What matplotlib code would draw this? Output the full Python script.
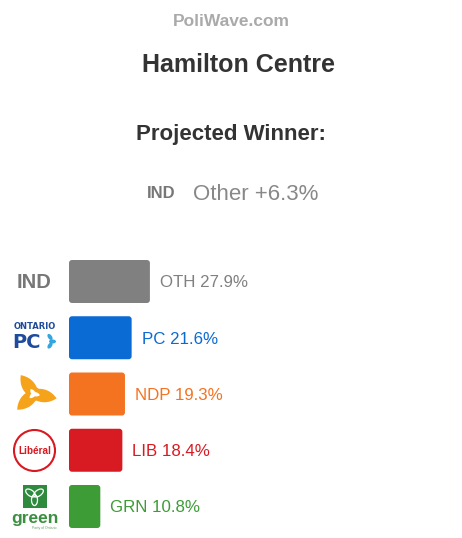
"""Projected vote share card for Hamilton Centre (PoliWave style)."""

import matplotlib

matplotlib.use("Agg")

import matplotlib.pyplot as plt
import numpy as np
from matplotlib.patches import Circle, Ellipse, FancyBboxPatch, Polygon, Rectangle

plt.rcParams["font.family"] = ["Liberation Sans", "DejaVu Sans"]

# data
riding = "Hamilton Centre"
winner_code = "IND"
winner_name = "Other"
winner_margin = 6.3
parties = ["OTH", "PC", "NDP", "LIB", "GRN"]
shares = [27.9, 21.6, 19.3, 18.4, 10.8]
bar_colors = ["#808080", "#0a6bd4", "#f47321", "#d81b22", "#3e9c37"]

W, H = 462, 538
fig = plt.figure(figsize=(W / 100, H / 100), dpi=100)
fig.patch.set_facecolor("white")

# pixel overlay for header and logos
bg = fig.add_axes([0, 0, 1, 1])
bg.set_xlim(0, W)
bg.set_ylim(H, 0)
bg.axis("off")

bg.text(231, 26, "PoliWave.com", ha="center", va="baseline", fontsize=12.5,
        fontweight="bold", color="#aaaaaa")
bg.text(238, 71.5, riding, ha="center", va="baseline", fontsize=18,
        fontweight="bold", color="#333333")
bg.text(231, 140, "Projected Winner:", ha="center", va="baseline", fontsize=16,
        fontweight="bold", color="#333333")
bg.text(146.5, 198.5, winner_code, ha="left", va="baseline", fontsize=12,
        fontweight="bold", color="#777777")
bg.text(193, 200, f"{winner_name} +{winner_margin}%", ha="left", va="baseline",
        fontsize=16, color="#888888")

# bar axes: 0-100 % over 290 px starting at x=69
slot = 56.25
top = 281.5 - slot / 2
ax = fig.add_axes([69 / W, (H - (top + slot * len(parties))) / H, 290 / W, slot * len(parties) / H])
ax.set_xlim(0, 100)
ax.set_ylim(len(parties) - 0.5, -0.5)
ax.axis("off")
ax.patch.set_alpha(0)

bar_h = 43 / slot
x_per_px = 100 / 290
y_per_px = 1 / slot
for i, (p, v, c) in enumerate(zip(parties, shares, bar_colors)):
    ax.add_patch(FancyBboxPatch((0, i - bar_h / 2), v, bar_h,
                                boxstyle=f"round,pad=0,rounding_size={3 * x_per_px}",
                                mutation_aspect=y_per_px / x_per_px,
                                facecolor=c, edgecolor="none"))
    ax.annotate(f"{p} {v}%", xy=(v, i), xytext=(7.2, -4.3), textcoords="offset points",
                ha="left", va="baseline", fontsize=12.2, color=c)

# logos
bg.text(17, 287.7, "IND", ha="left", va="baseline", fontsize=14.5,
        fontweight="bold", color="#777777")

# Ontario PC
bg.text(34.5, 329, "ONTARIO", ha="center", va="baseline", fontsize=6,
        fontweight="bold", color="#1f4b9c", family=["DejaVu Sans"])
bg.text(12, 348, "PC", ha="left", va="baseline", fontsize=14,
        fontweight="bold", color="#1f4b9c", family=["DejaVu Sans"])
for dx, dy, ang in [(3, -4, 55), (5.5, 0.5, 0), (3, 4.5, -55)]:
    bg.add_patch(Ellipse((47 + dx, 341 + dy), 7, 4, angle=ang,
                         facecolor="#33a6df", edgecolor="none"))

# NDP star
theta = np.radians(np.linspace(0, 360, 721))
tips = np.radians([125, 223, 349])
d = np.min(np.abs(np.angle(np.exp(1j * (theta[:, None] - tips[None, :])))), axis=1)
f = np.clip(1 - d / np.radians(62), 0, 1) ** 1.6
r = 7 + 16 * f
cx, cy = 34, 394
bg.add_patch(Polygon(np.column_stack([cx + r * np.cos(theta), cy - r * np.sin(theta)]),
                     closed=True, facecolor="#f6a31c", edgecolor="none"))
r2 = 2.5 + 3.5 * f
bg.add_patch(Polygon(np.column_stack([cx + r2 * np.cos(theta), cy - r2 * np.sin(theta)]),
                     closed=True, facecolor="white", edgecolor="none"))

# Liberal
bg.add_patch(Circle((34.5, 450.5), 20.5, facecolor="white", edgecolor="#d71920", lw=1.5))
bg.text(34.5, 454.5, "Libéral", ha="center", va="baseline", fontsize=7.2,
        fontweight="bold", color="#d71920")

# Green
bg.add_patch(Rectangle((22.5, 484.5), 24, 23, facecolor="#2e8b3d", edgecolor="none"))
for ang, dx, dy in [(35, -4, -3), (-35, 4, -3), (90, 0, 4)]:
    bg.add_patch(Ellipse((34.5 + dx, 496 + dy), 11, 6, angle=ang,
                         facecolor="none", edgecolor="white", lw=0.9))
bg.text(34.5, 523.5, "green", ha="center", va="baseline", fontsize=12.5,
        fontweight="bold", color="#3b8f40")
bg.text(56, 528.5, "Party of Ontario", ha="right", va="baseline", fontsize=2.5,
        color="#6a9f6a")

fig.savefig("out.png", dpi=100, facecolor="white")
plt.close(fig)
